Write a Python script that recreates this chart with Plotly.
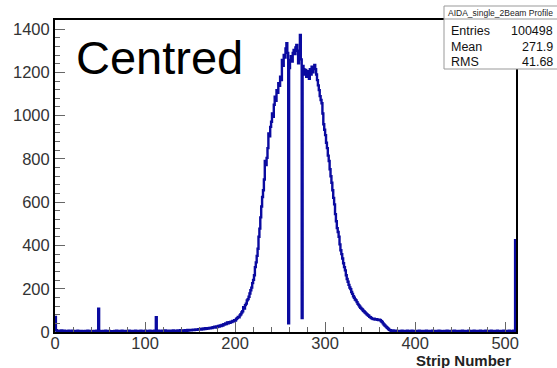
import plotly.graph_objects as go

# Histogram counts per strip (strip 0 .. 511)
counts_rows = [
    [70, 8, 5, 4, 6, 3, 5, 7, 4, 3, 6, 4, 5, 3, 4, 6],
    [5, 3, 4, 6, 2, 5, 4, 3, 5, 6, 3, 4, 2, 5, 4, 3],
    [4, 5, 3, 2, 6, 4, 3, 5, 4, 2, 3, 5, 4, 3, 6, 4],
    [108, 5, 3, 4, 2, 5, 3, 4, 6, 3, 2, 4, 5, 3, 4, 3],
    [2, 4, 5, 3, 6, 4, 3, 5, 2, 4, 6, 3, 5, 4, 3, 5],
    [4, 3, 6, 5, 4, 2, 5, 3, 4, 6, 5, 3, 4, 5, 3, 6],
    [4, 5, 3, 4, 6, 5, 3, 4, 5, 6, 4, 3, 5, 4, 6, 5],
    [68, 4, 5, 6, 4, 3, 5, 6, 4, 5, 7, 4, 5, 6, 4, 5],
    [6, 5, 4, 7, 5, 6, 4, 5, 7, 6, 5, 8, 6, 5, 7, 6],
    [8, 7, 6, 9, 7, 8, 10, 8, 9, 11, 9, 10, 12, 10, 11, 13],
    [12, 14, 11, 15, 13, 16, 14, 17, 15, 18, 16, 19, 17, 20, 18, 22],
    [20, 24, 21, 26, 23, 28, 25, 30, 27, 33, 30, 36, 34, 40, 37, 44],
    [40, 45, 43, 48, 46, 51, 49, 55, 53, 60, 64, 70, 68, 77, 82, 90],
    [96, 115, 108, 124, 131, 146, 152, 163, 178, 193, 205, 226, 241, 262, 300, 322],
    [352, 385, 440, 478, 530, 580, 624, 655, 705, 790, 772, 805, 850, 918, 905, 948],
    [972, 1010, 995, 1050, 1087, 1068, 1118, 1105, 1150, 1138, 1180, 1165, 1257, 1230, 1280, 1268],
    [1310, 1335, 1290, 40, 1220, 1257, 1275, 1250, 1290, 1303, 1285, 1315, 1327, 1300, 1242, 1290],
    [1373, 1260, 65, 1230, 1215, 1190, 1211, 1180, 1205, 1196, 1170, 1215, 1190, 1226, 1200, 1215],
    [1234, 1215, 1190, 1164, 1140, 1118, 1090, 1072, 1057, 1010, 960, 935, 910, 875, 850, 815],
    [790, 752, 720, 690, 655, 620, 590, 545, 512, 480, 462, 440, 405, 378, 360, 340],
    [318, 300, 285, 262, 245, 232, 218, 206, 198, 185, 176, 165, 158, 150, 146, 138],
    [130, 124, 118, 112, 108, 104, 98, 95, 90, 86, 82, 78, 75, 70, 68, 64],
    [62, 60, 61, 58, 57, 59, 56, 55, 57, 54, 50, 46, 40, 35, 30, 26],
    [22, 18, 14, 10, 8, 6, 5, 7, 4, 5, 6, 3, 5, 4, 3, 5],
    [4, 6, 3, 5, 4, 3, 5, 6, 4, 3, 5, 4, 6, 3, 4, 5],
    [3, 4, 5, 3, 6, 4, 3, 5, 4, 3, 5, 4, 6, 4, 3, 5],
    [4, 3, 5, 6, 4, 3, 4, 5, 3, 4, 6, 3, 5, 4, 3, 4],
    [5, 3, 4, 6, 4, 5, 3, 4, 5, 3, 4, 6, 3, 5, 4, 3],
    [4, 5, 3, 4, 6, 3, 5, 4, 3, 4, 5, 6, 3, 4, 5, 3],
    [4, 6, 3, 5, 4, 3, 5, 4, 6, 3, 4, 5, 3, 4, 6, 5],
    [3, 4, 5, 3, 6, 4, 3, 5, 4, 3, 5, 6, 4, 3, 4, 5],
    [3, 4, 6, 5, 3, 4, 5, 3, 6, 4, 5, 3, 4, 6, 5, 424],
]
counts = [c for row in counts_rows for c in row]
assert len(counts) == 512

x_ticks = [0, 100, 200, 300, 400, 500]
y_ticks = [0, 200, 400, 600, 800, 1000, 1200, 1400]

stats_title = "AIDA_single_2Beam Profile"
stats_labels = ["Entries", "Mean", "RMS"]
stats_values = ["100498", "271.9", "41.68"]
label_text = "Centred"
x_title = "Strip Number"

# step histogram: left edges plus the final right edge
edges = list(range(len(counts) + 1))
ys = counts + [counts[-1]]

FONT = "Liberation Sans, Arial, sans-serif"
L, R, T, B = 55, 41, 20, 36
W, H = 557, 368
pw, ph = W - L - R, H - T - B

def px(xp):
    return (xp - L) / pw

def py(yp):
    return (H - B - yp) / ph

fig = go.Figure()
fig.add_trace(go.Scatter(
    x=edges, y=ys, mode="lines", line_shape="hv",
    line=dict(color="rgb(10,10,160)", width=2.4), hoverinfo="skip",
))

fig.update_layout(
    width=W, height=H,
    margin=dict(l=L, r=R, t=T, b=B, pad=0),
    paper_bgcolor="white", plot_bgcolor="white",
    showlegend=False,
    font=dict(family=FONT, color="#222", size=15),
    xaxis=dict(
        range=[0, 512], tickvals=x_ticks, ticks="inside", ticklen=10,
        tickcolor="#666", tickwidth=1, ticklabelstandoff=-5,
        minor=dict(ticks="inside", ticklen=5, dtick=20, tick0=0, tickcolor="#666"),
        showline=True, linecolor="black", linewidth=2, mirror=True,
        showgrid=False, zeroline=False, tickfont=dict(size=16.5, family=FONT, color="#333"),
    ),
    yaxis=dict(
        range=[0, 1442], tickvals=y_ticks, ticks="inside", ticklen=10,
        tickcolor="#666", tickwidth=1,
        minor=dict(ticks="inside", ticklen=5, dtick=40, tick0=0, tickcolor="#666"),
        showline=True, linecolor="black", linewidth=2, mirror=True,
        showgrid=False, zeroline=False, tickfont=dict(size=16.5, family=FONT, color="#333"),
    ),
)

# stats box
bx0, bx1 = px(444), px(562)
by0, by1 = py(69), py(6)
fig.add_shape(type="rect", xref="paper", yref="paper", x0=bx0, x1=bx1, y0=by0, y1=by1,
              line=dict(color="#999", width=1), fillcolor="white", layer="above")
fig.add_shape(type="line", xref="paper", yref="paper", x0=bx0, x1=bx1, y0=py(19), y1=py(19),
              line=dict(color="#999", width=1), layer="above")
fig.add_annotation(xref="paper", yref="paper", x=px(446), y=py(12.5), text=stats_title,
                   showarrow=False, xanchor="left", yanchor="middle",
                   font=dict(size=8.5, family=FONT, color="#222"))
for i, (lab, val) in enumerate(zip(stats_labels, stats_values)):
    yy = py(31 + 15.5 * i)
    fig.add_annotation(xref="paper", yref="paper", x=px(449), y=yy, text=lab,
                       showarrow=False, xanchor="left", yanchor="middle",
                       font=dict(size=12.5, family=FONT, color="#111"))
    fig.add_annotation(xref="paper", yref="paper", x=px(555), y=yy, text=val,
                       showarrow=False, xanchor="right", yanchor="middle",
                       font=dict(size=12.5, family=FONT, color="#111"))

# big label
fig.add_annotation(xref="paper", yref="paper", x=px(74), y=py(57.5), text=label_text,
                   showarrow=False, xanchor="left", yanchor="middle",
                   font=dict(size=47, family=FONT, color="black"))

# x-axis title, right aligned at the end of the axis
fig.add_annotation(xref="paper", yref="paper", x=px(513), y=py(350), text="<b>" + x_title + "</b>",
                   showarrow=False, xanchor="right", yanchor="top",
                   font=dict(size=15, family=FONT, color="#222"))

fig.write_html("out.html", post_script="document.body.style.margin='0';",
               config={"displayModeBar": False})
